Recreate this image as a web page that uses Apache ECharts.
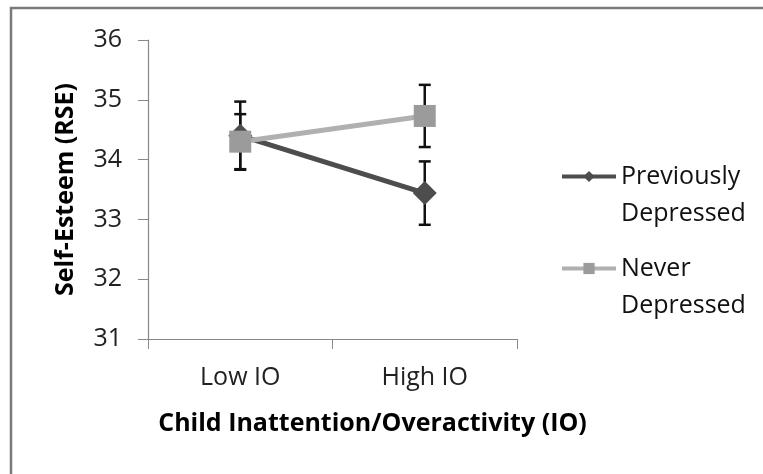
<!DOCTYPE html>
<html>
<head>
<meta charset="utf-8">
<script src="https://cdn.jsdelivr.net/npm/echarts@6/dist/echarts.min.js"></script>
<style>
html,body{margin:0;padding:0;background:#fff;}
#chart{width:763px;height:474px;}
</style>
</head>
<body>
<div id="chart"></div>
<script>
// ---- data ----
var categories = ['Low IO', 'High IO'];
var seriesNames = ['Previously\nDepressed', 'Never\nDepressed'];
var previouslyDepressed = [34.40, 33.44];
var previouslyErr = [0.57, 0.53];
var neverDepressed = [34.30, 34.73];
var neverErr = [0.46, 0.52];
var yTicks = [31, 32, 33, 34, 35, 36];

var FONT = '"Open Sans", sans-serif';

function errorSeries(values, errs, z) {
  var data = values.map(function (v, i) { return [i, v - errs[i], v + errs[i]]; });
  return {
    type: 'custom',
    z: z,
    silent: true,
    data: data,
    renderItem: function (params, api) {
      var lo = api.coord([api.value(0), api.value(1)]);
      var hi = api.coord([api.value(0), api.value(2)]);
      var w = 6;
      var st = { stroke: '#111', lineWidth: 2.5 };
      return {
        type: 'group',
        children: [
          { type: 'line', shape: { x1: lo[0], y1: lo[1], x2: hi[0], y2: hi[1] }, style: st },
          { type: 'line', shape: { x1: lo[0] - w, y1: lo[1], x2: lo[0] + w, y2: lo[1] }, style: st },
          { type: 'line', shape: { x1: hi[0] - w, y1: hi[1], x2: hi[0] + w, y2: hi[1] }, style: st }
        ]
      };
    }
  };
}

var chart = echarts.init(document.getElementById('chart'));
chart.setOption({
  animation: false,
  backgroundColor: '#fff',
  graphic: [{
    type: 'rect',
    shape: { x: 11, y: 8, width: 900, height: 600 },
    style: { fill: 'none', stroke: '#7a7a7a', lineWidth: 2.5 },
    silent: true,
    z: -10
  }],
  grid: { left: 148, top: 40, width: 369, height: 299 },
  legend: {
    orient: 'vertical',
    left: 555,
    top: 116,
    itemWidth: 54,
    itemHeight: 14,
    itemGap: -19,
    data: seriesNames,
    formatter: function (name) { return '\n' + name; },
    lineStyle: { width: 4 },
    textStyle: {
      fontFamily: FONT,
      fontSize: 25,
      color: '#111',
      lineHeight: 37
    }
  },
  xAxis: {
    type: 'category',
    data: categories,
    boundaryGap: true,
    name: 'Child Inattention/Overactivity (IO)',
    nameLocation: 'middle',
    nameGap: 72,
    nameTextStyle: { fontFamily: FONT, fontSize: 25, fontWeight: 'bold', color: '#000', padding: [0, 0, 0, 80] },
    axisLine: { lineStyle: { color: '#888', width: 1.2 } },
    axisTick: { show: true, length: 10, alignWithLabel: false, lineStyle: { color: '#888' } },
    axisLabel: { fontFamily: FONT, fontSize: 25, color: '#222', margin: 26 }
  },
  yAxis: {
    type: 'value',
    min: yTicks[0],
    max: yTicks[yTicks.length - 1],
    interval: 1,
    name: 'Self-Esteem (RSE)',
    nameLocation: 'middle',
    nameGap: 70,
    nameTextStyle: { fontFamily: FONT, fontSize: 25, fontWeight: 'bold', color: '#000' },
    axisLine: { show: true, lineStyle: { color: '#888', width: 1.2 } },
    axisTick: { show: true, length: 10, lineStyle: { color: '#888' } },
    axisLabel: { fontFamily: FONT, fontSize: 25, color: '#222', margin: 26 },
    splitLine: { show: false }
  },
  series: [
    {
      name: seriesNames[0],
      type: 'line',
      data: previouslyDepressed,
      symbol: 'diamond',
      symbolSize: 24,
      z: 3,
      lineStyle: { color: '#4d4d4d', width: 5 },
      itemStyle: { color: '#4d4d4d' }
    },
    {
      name: seriesNames[1],
      type: 'line',
      data: neverDepressed,
      symbol: 'rect',
      symbolSize: 22,
      z: 4,
      lineStyle: { color: '#b0b0b0', width: 5 },
      itemStyle: { color: '#9b9b9b' }
    },
    errorSeries(previouslyDepressed, previouslyErr, 2),
    errorSeries(neverDepressed, neverErr, 2)
  ]
});
</script>
</body>
</html>
